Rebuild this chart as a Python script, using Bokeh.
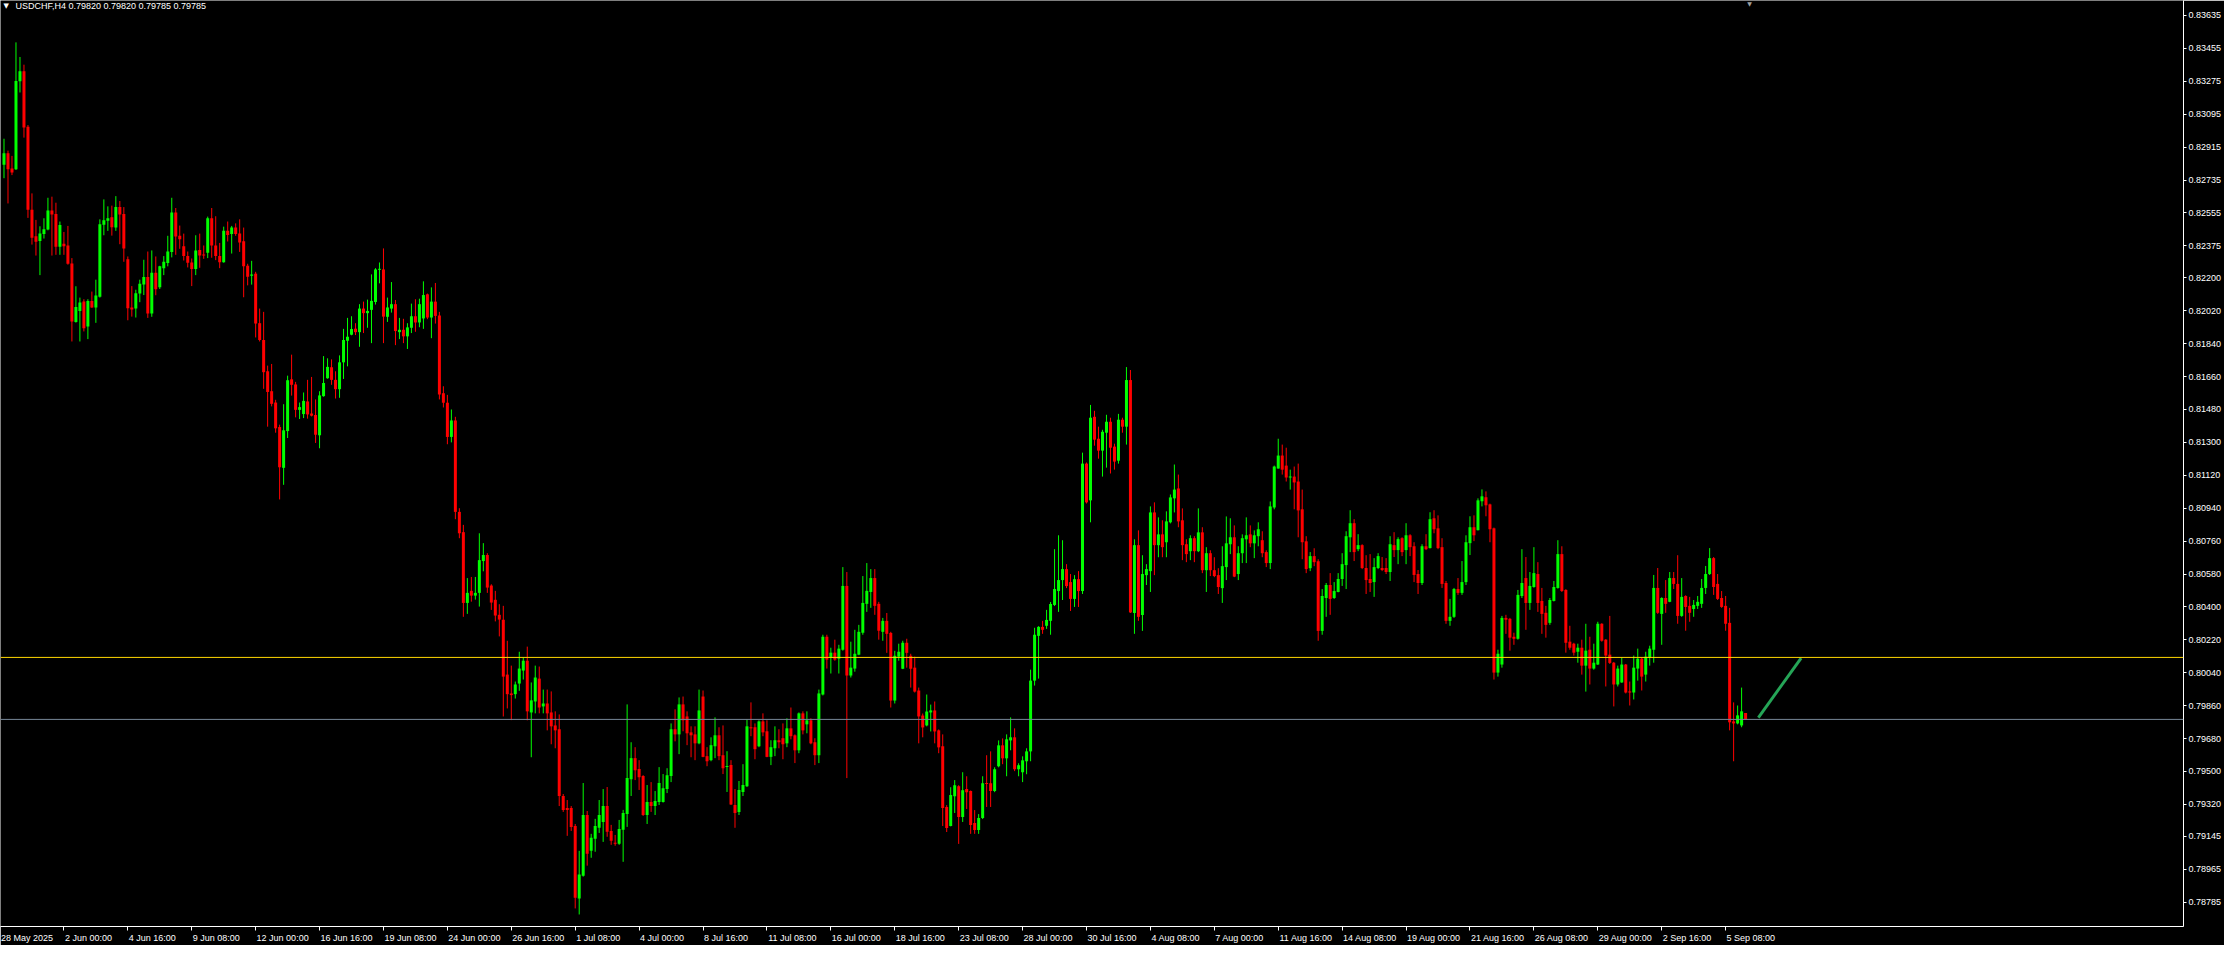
from bokeh.plotting import figure
from bokeh.models import (ColumnDataSource, Range1d, LinearAxis, FixedTicker,
                          PrintfTickFormatter, CustomJSTickFormatter, Span, Label)
from bokeh.embed import file_html
from bokeh.resources import INLINE

# ---------------- data (USDCHF, H4) ----------------
symbol_title = "USDCHF,H4  0.79820 0.79820 0.79785 0.79785"

opens = [
0.82818,0.82881,0.82798,0.82794,0.83275,0.83330,0.83027,0.82573,0.82428,0.82402,
0.82440,0.82464,0.82569,0.82549,0.82370,0.82386,0.82377,0.82279,0.81959,0.82019,
0.82070,0.81934,0.82074,0.82038,0.82097,0.82491,0.82513,0.82531,0.82475,0.82587,
0.82549,0.82302,0.82038,0.82032,0.82114,0.82163,0.82204,0.82005,0.82228,0.82148,
0.82253,0.82281,0.82342,0.82558,0.82430,0.82373,0.82319,0.82284,0.82248,0.82353,
0.82326,0.82337,0.82526,0.82377,0.82319,0.82286,0.82457,0.82440,0.82475,0.82442,
0.82400,0.82266,0.82212,0.82223,0.81952,0.81860,0.81689,0.81580,0.81518,0.81384,
0.81161,0.81362,0.81645,0.81617,0.81478,0.81455,0.81524,0.81458,0.81450,0.81339,
0.81553,0.81651,0.81711,0.81642,0.81591,0.81738,0.81856,0.81889,0.81922,0.81903,
0.82032,0.82007,0.82025,0.82068,0.82244,0.82246,0.81987,0.82032,0.82056,0.81903,
0.81916,0.81880,0.81927,0.81990,0.81956,0.81978,0.82110,0.81983,0.82070,0.81994,
0.81569,0.81517,0.81330,0.81420,0.80920,0.80809,0.80422,0.80488,0.80462,0.80477,
0.80651,0.80684,0.80517,0.80439,0.80357,0.80330,0.80030,0.79927,0.79923,0.79981,
0.80052,0.80106,0.79823,0.79883,0.80008,0.79856,0.79872,0.79823,0.79752,0.79731,
0.79366,0.79300,0.79300,0.79202,0.78805,0.78930,0.79262,0.79066,0.79132,0.79192,
0.79224,0.79311,0.79175,0.79110,0.79105,0.79181,0.79268,0.79458,0.79573,0.79513,
0.79475,0.79262,0.79333,0.79311,0.79333,0.79333,0.79404,0.79475,0.79731,0.79703,
0.79867,0.79801,0.79714,0.79703,0.79654,0.79910,0.79584,0.79562,0.79638,0.79698,
0.79589,0.79524,0.79535,0.79317,0.79279,0.79388,0.79420,0.79742,0.79742,0.79638,
0.79774,0.79720,0.79580,0.79627,0.79671,0.79682,0.79654,0.79736,0.79698,0.79616,
0.79818,0.79758,0.79780,0.79660,0.79589,0.79921,0.80237,0.80123,0.80150,0.80117,
0.80166,0.80515,0.80025,0.80063,0.80139,0.80259,0.80417,0.80482,0.80558,0.80417,
0.80264,0.80324,0.80258,0.79888,0.80128,0.80062,0.80204,0.80133,0.80068,0.79943,
0.79806,0.79752,0.79823,0.79834,0.79725,0.79638,0.79306,0.79202,0.79365,0.79420,
0.79251,0.79404,0.79393,0.79218,0.79180,0.79246,0.79436,0.79436,0.79393,0.79529,
0.79643,0.79572,0.79670,0.79687,0.79512,0.79496,0.79556,0.79610,0.79997,0.80242,
0.80291,0.80297,0.80324,0.80411,0.80487,0.80547,0.80607,0.80536,0.80444,0.80552,
0.80487,0.81184,0.80983,0.81440,0.81320,0.81255,0.81353,0.81413,0.81277,0.81200,
0.81424,0.81386,0.81641,0.80367,0.80738,0.80356,0.80574,0.80596,0.80917,0.80738,
0.80797,0.80754,0.80863,0.80994,0.81048,0.80874,0.80743,0.80705,0.80776,0.80705,
0.80808,0.80601,0.80694,0.80601,0.80574,0.80503,0.80618,0.80743,0.80781,0.80580,
0.80694,0.80770,0.80797,0.80748,0.80787,0.80765,0.80700,0.80640,0.80944,0.81157,
0.81228,0.81173,0.81108,0.81113,0.81086,0.80934,0.80759,0.80612,0.80678,0.80650,
0.80269,0.80449,0.80520,0.80449,0.80482,0.80553,0.80629,0.80781,0.80858,0.80716,
0.80738,0.80613,0.80553,0.80536,0.80613,0.80613,0.80613,0.80591,0.80738,0.80711,
0.80776,0.80711,0.80792,0.80732,0.80580,0.80531,0.80732,0.80722,0.80885,0.80830,
0.80727,0.80531,0.80324,0.80346,0.80498,0.80477,0.80536,0.80749,0.80836,0.80820,
0.80978,0.81000,0.80961,0.80830,0.80041,0.80085,0.80340,0.80335,0.80237,0.80226,
0.80460,0.80558,0.80422,0.80509,0.80580,0.80433,0.80368,0.80313,0.80433,0.80504,
0.80689,0.80493,0.80210,0.80199,0.80155,0.80177,0.80079,0.80166,0.80063,0.80085,
0.80308,0.80221,0.80139,0.80095,0.79976,0.79987,0.80085,0.79938,0.79932,0.80063,
0.80117,0.80030,0.80123,0.80166,0.80504,0.80362,0.80449,0.80428,0.80558,0.80526,
0.80351,0.80460,0.80406,0.80389,0.80406,0.80417,0.80504,0.80580,0.80667,0.80526,
0.80449,0.80406,0.80313,0.79774,0.79763,0.79752,0.79820]

highs = [
0.82961,0.82896,0.82867,0.83488,0.83408,0.83366,0.83036,0.82662,0.82517,0.82482,
0.82526,0.82638,0.82644,0.82611,0.82508,0.82451,0.82484,0.82308,0.82154,0.82092,
0.82083,0.82083,0.82125,0.82190,0.82520,0.82629,0.82591,0.82595,0.82647,0.82620,
0.82587,0.82317,0.82155,0.82135,0.82190,0.82299,0.82344,0.82350,0.82317,0.82266,
0.82319,0.82430,0.82638,0.82582,0.82486,0.82442,0.82344,0.82306,0.82433,0.82442,
0.82377,0.82535,0.82582,0.82537,0.82391,0.82480,0.82508,0.82484,0.82498,0.82520,
0.82475,0.82277,0.82293,0.82233,0.82032,0.82014,0.81720,0.81729,0.81533,0.81397,
0.81509,0.81665,0.81780,0.81631,0.81518,0.81573,0.81642,0.81658,0.81535,0.81580,
0.81772,0.81760,0.81754,0.81689,0.81776,0.81921,0.81981,0.81990,0.81952,0.82056,
0.82070,0.82081,0.82219,0.82253,0.82284,0.82361,0.82092,0.82177,0.82079,0.81981,
0.81976,0.81952,0.82059,0.82083,0.82086,0.82181,0.82114,0.82148,0.82172,0.82014,
0.81607,0.81560,0.81480,0.81440,0.80940,0.80849,0.80558,0.80564,0.80564,0.80803,
0.80749,0.80694,0.80524,0.80488,0.80415,0.80406,0.80215,0.80079,0.79992,0.80155,
0.80123,0.80183,0.79987,0.80079,0.80074,0.79948,0.79948,0.79938,0.79829,0.79812,
0.79377,0.79344,0.79311,0.79213,0.79066,0.79437,0.79284,0.79159,0.79241,0.79344,
0.79404,0.79415,0.79208,0.79153,0.79235,0.79290,0.79867,0.79660,0.79633,0.79562,
0.79480,0.79426,0.79442,0.79393,0.79524,0.79486,0.79518,0.79763,0.79840,0.79905,
0.79910,0.79829,0.79747,0.79747,0.79948,0.79943,0.79633,0.79687,0.79796,0.79742,
0.79752,0.79611,0.79562,0.79404,0.79448,0.79540,0.79785,0.79878,0.79763,0.79780,
0.79818,0.79780,0.79671,0.79747,0.79731,0.79763,0.79791,0.79850,0.79703,0.79823,
0.79829,0.79829,0.79791,0.79682,0.79948,0.80248,0.80248,0.80177,0.80221,0.80193,
0.80618,0.80591,0.80210,0.80275,0.80302,0.80569,0.80640,0.80607,0.80607,0.80428,
0.80340,0.80367,0.80264,0.80160,0.80199,0.80215,0.80226,0.80144,0.80128,0.79959,
0.79817,0.79921,0.79866,0.79883,0.79730,0.79703,0.79316,0.79414,0.79453,0.79425,
0.79496,0.79474,0.79396,0.79289,0.79267,0.79474,0.79589,0.79610,0.79523,0.79670,
0.79681,0.79703,0.79796,0.79736,0.79545,0.79583,0.79627,0.80057,0.80286,0.80295,
0.80324,0.80384,0.80427,0.80716,0.80792,0.80765,0.80634,0.80580,0.80574,0.80596,
0.81244,0.81190,0.81505,0.81473,0.81386,0.81369,0.81451,0.81435,0.81293,0.81456,
0.81435,0.81712,0.81696,0.80770,0.80819,0.80683,0.80634,0.80950,0.80972,0.80890,
0.80874,0.80923,0.81015,0.81179,0.81124,0.80939,0.80770,0.80792,0.80787,0.80939,
0.80836,0.80727,0.80710,0.80672,0.80612,0.80732,0.80895,0.80885,0.80846,0.80732,
0.80797,0.80890,0.80846,0.80819,0.80863,0.80814,0.80710,0.80977,0.81173,0.81320,
0.81288,0.81271,0.81151,0.81168,0.81184,0.81042,0.80787,0.80700,0.80721,0.80661,
0.80498,0.80531,0.80585,0.80536,0.80585,0.80694,0.80814,0.80929,0.80880,0.80798,
0.80743,0.80683,0.80689,0.80667,0.80694,0.80673,0.80667,0.80787,0.80809,0.80781,
0.80781,0.80858,0.80798,0.80754,0.80602,0.80743,0.80798,0.80918,0.80929,0.80901,
0.80776,0.80542,0.80444,0.80504,0.80558,0.80651,0.80792,0.80896,0.80901,0.80994,
0.81043,0.81032,0.80965,0.80834,0.80166,0.80351,0.80357,0.80340,0.80259,0.80493,
0.80716,0.80673,0.80591,0.80727,0.80645,0.80504,0.80406,0.80449,0.80542,0.80765,
0.80732,0.80497,0.80297,0.80204,0.80199,0.80221,0.80308,0.80237,0.80199,0.80319,
0.80311,0.80224,0.80351,0.80099,0.80079,0.80123,0.80088,0.79992,0.80134,0.80172,
0.80123,0.80155,0.80188,0.80575,0.80613,0.80453,0.80547,0.80591,0.80591,0.80683,
0.80558,0.80464,0.80455,0.80438,0.80460,0.80553,0.80624,0.80722,0.80673,0.80580,
0.80487,0.80460,0.80395,0.79878,0.79861,0.79959,0.79820]

lows = [
0.82745,0.82607,0.82762,0.82790,0.83214,0.82967,0.82528,0.82382,0.82322,0.82215,
0.82415,0.82460,0.82322,0.82326,0.82326,0.82326,0.82272,0.81852,0.81955,0.81852,
0.81907,0.81865,0.82036,0.81954,0.82092,0.82433,0.82457,0.82431,0.82457,0.82384,
0.82288,0.81968,0.81988,0.81983,0.82067,0.82106,0.81981,0.81987,0.82105,0.82139,
0.82215,0.82263,0.82312,0.82326,0.82359,0.82295,0.82257,0.82155,0.82215,0.82255,
0.82304,0.82308,0.82310,0.82297,0.82253,0.82283,0.82399,0.82333,0.82430,0.82342,
0.82094,0.82159,0.82163,0.81874,0.81852,0.81593,0.81386,0.81497,0.81353,0.80988,
0.81068,0.81324,0.81556,0.81437,0.81428,0.81433,0.81430,0.81442,0.81297,0.81268,
0.81550,0.81648,0.81615,0.81540,0.81544,0.81647,0.81716,0.81886,0.81887,0.81823,
0.81898,0.81927,0.81843,0.82054,0.82170,0.81843,0.81959,0.82010,0.81832,0.81865,
0.81843,0.81811,0.81898,0.81905,0.81930,0.81921,0.81974,0.81870,0.81950,0.81535,
0.81491,0.81290,0.81300,0.80880,0.80776,0.80346,0.80362,0.80429,0.80440,0.80402,
0.80595,0.80477,0.80384,0.80321,0.80239,0.79801,0.79845,0.79781,0.79899,0.79941,
0.80003,0.79780,0.79578,0.79818,0.79818,0.79818,0.79725,0.79649,0.79627,0.79311,
0.79279,0.79148,0.79175,0.78751,0.78718,0.78925,0.78985,0.79028,0.79061,0.79164,
0.79115,0.79143,0.79099,0.79094,0.79099,0.79006,0.79197,0.79366,0.79453,0.79399,
0.79257,0.79213,0.79279,0.79262,0.79317,0.79330,0.79382,0.79442,0.79665,0.79595,
0.79720,0.79644,0.79578,0.79562,0.79649,0.79578,0.79529,0.79556,0.79573,0.79562,
0.79486,0.79388,0.79317,0.79192,0.79262,0.79366,0.79415,0.79693,0.79567,0.79633,
0.79693,0.79578,0.79535,0.79584,0.79627,0.79567,0.79633,0.79676,0.79546,0.79600,
0.79703,0.79709,0.79649,0.79535,0.79546,0.79916,0.80063,0.80036,0.80106,0.80036,
0.80161,0.79464,0.80014,0.80046,0.80136,0.80248,0.80373,0.80395,0.80357,0.80221,
0.80215,0.80149,0.79850,0.79872,0.80106,0.80060,0.80068,0.79959,0.79932,0.79654,
0.79687,0.79747,0.79719,0.79654,0.79600,0.79202,0.79169,0.79200,0.79273,0.79104,
0.79224,0.79295,0.79159,0.79159,0.79159,0.79240,0.79306,0.79306,0.79387,0.79523,
0.79540,0.79474,0.79616,0.79502,0.79474,0.79442,0.79485,0.79556,0.79970,0.80008,
0.80253,0.80280,0.80248,0.80405,0.80373,0.80438,0.80503,0.80378,0.80400,0.80400,
0.80471,0.80966,0.80863,0.81282,0.81211,0.81113,0.81162,0.81130,0.81151,0.81184,
0.81353,0.81288,0.80367,0.80253,0.80324,0.80269,0.80520,0.80482,0.80574,0.80672,
0.80672,0.80672,0.80857,0.80917,0.80836,0.80656,0.80645,0.80656,0.80645,0.80700,
0.80585,0.80482,0.80569,0.80563,0.80471,0.80422,0.80547,0.80689,0.80563,0.80547,
0.80640,0.80640,0.80727,0.80667,0.80732,0.80672,0.80618,0.80607,0.80934,0.81157,
0.81124,0.81086,0.81042,0.80934,0.80781,0.80661,0.80585,0.80596,0.80623,0.80215,
0.80248,0.80346,0.80357,0.80444,0.80480,0.80515,0.80498,0.80700,0.80651,0.80705,
0.80607,0.80471,0.80482,0.80455,0.80607,0.80596,0.80580,0.80542,0.80673,0.80634,
0.80678,0.80634,0.80678,0.80536,0.80471,0.80520,0.80711,0.80720,0.80803,0.80716,
0.80504,0.80308,0.80297,0.80340,0.80466,0.80466,0.80520,0.80684,0.80760,0.80818,
0.80950,0.80896,0.80754,0.80003,0.80019,0.80068,0.80253,0.80161,0.80193,0.80221,
0.80449,0.80275,0.80384,0.80505,0.80373,0.80253,0.80232,0.80302,0.80430,0.80500,
0.80482,0.80150,0.80166,0.80134,0.80095,0.80030,0.79937,0.79976,0.80057,0.80083,
0.80210,0.79965,0.80088,0.79856,0.79965,0.79985,0.79927,0.79861,0.79894,0.79997,
0.79943,0.79992,0.80079,0.80095,0.80362,0.80193,0.80368,0.80426,0.80498,0.80308,
0.80346,0.80270,0.80319,0.80346,0.80389,0.80395,0.80471,0.80575,0.80466,0.80438,
0.80395,0.80270,0.79725,0.79556,0.79758,0.79742,0.79785]

closes = [
0.82881,0.82794,0.82776,0.83277,0.83330,0.83023,0.82573,0.82419,0.82397,0.82442,
0.82466,0.82569,0.82546,0.82370,0.82489,0.82373,0.82277,0.81961,0.82041,0.82065,
0.81925,0.82074,0.82038,0.82103,0.82493,0.82515,0.82526,0.82477,0.82587,0.82546,
0.82361,0.82034,0.82027,0.82116,0.82168,0.82204,0.82005,0.82228,0.82137,0.82263,
0.82288,0.82344,0.82558,0.82426,0.82411,0.82319,0.82283,0.82248,0.82350,0.82322,
0.82322,0.82526,0.82377,0.82319,0.82286,0.82457,0.82435,0.82475,0.82440,0.82393,
0.82263,0.82206,0.82219,0.81950,0.81860,0.81684,0.81576,0.81511,0.81377,0.81164,
0.81366,0.81640,0.81615,0.81478,0.81493,0.81527,0.81453,0.81446,0.81342,0.81557,
0.81625,0.81713,0.81642,0.81591,0.81738,0.81860,0.81878,0.81920,0.81903,0.82032,
0.82007,0.82019,0.82074,0.82246,0.82248,0.81988,0.82038,0.82056,0.81909,0.81916,
0.81880,0.81929,0.81990,0.81956,0.82056,0.82106,0.81983,0.82070,0.81992,0.81562,
0.81517,0.81330,0.81420,0.80920,0.80803,0.80422,0.80477,0.80462,0.80477,0.80656,
0.80684,0.80506,0.80424,0.80353,0.80331,0.80019,0.79923,0.79918,0.79976,0.80063,
0.80106,0.79829,0.79889,0.80014,0.79850,0.79872,0.79818,0.79747,0.79725,0.79366,
0.79290,0.79290,0.79197,0.78810,0.78936,0.79262,0.79050,0.79137,0.79202,0.79262,
0.79311,0.79170,0.79121,0.79105,0.79186,0.79273,0.79464,0.79573,0.79507,0.79469,
0.79262,0.79333,0.79311,0.79339,0.79437,0.79409,0.79480,0.79731,0.79703,0.79867,
0.79780,0.79709,0.79698,0.79654,0.79834,0.79580,0.79556,0.79644,0.79698,0.79584,
0.79518,0.79529,0.79320,0.79273,0.79399,0.79426,0.79747,0.79736,0.79622,0.79774,
0.79714,0.79580,0.79633,0.79671,0.79660,0.79649,0.79736,0.79693,0.79616,0.79818,
0.79725,0.79780,0.79654,0.79589,0.79927,0.80237,0.80112,0.80150,0.80112,0.80172,
0.80515,0.80025,0.80068,0.80144,0.80264,0.80422,0.80488,0.80558,0.80406,0.80270,
0.80324,0.80253,0.79888,0.80133,0.80155,0.80204,0.80149,0.80062,0.79937,0.79801,
0.79741,0.79828,0.79834,0.79719,0.79632,0.79300,0.79191,0.79371,0.79425,0.79251,
0.79398,0.79387,0.79208,0.79180,0.79246,0.79436,0.79431,0.79393,0.79512,0.79643,
0.79572,0.79676,0.79687,0.79512,0.79534,0.79561,0.79610,0.79997,0.80248,0.80291,
0.80275,0.80329,0.80416,0.80498,0.80547,0.80607,0.80514,0.80444,0.80552,0.80487,
0.81184,0.80972,0.81435,0.81315,0.81255,0.81358,0.81413,0.81271,0.81195,0.81424,
0.81386,0.81641,0.80370,0.80738,0.80346,0.80580,0.80607,0.80917,0.80738,0.80797,
0.80727,0.80868,0.80999,0.81042,0.80868,0.80738,0.80689,0.80776,0.80705,0.80808,
0.80601,0.80694,0.80601,0.80569,0.80509,0.80623,0.80748,0.80781,0.80566,0.80694,
0.80776,0.80792,0.80748,0.80792,0.80825,0.80694,0.80640,0.80950,0.81168,0.81228,
0.81151,0.81108,0.81113,0.81081,0.80928,0.80754,0.80607,0.80678,0.80645,0.80269,
0.80460,0.80520,0.80444,0.80487,0.80553,0.80634,0.80787,0.80858,0.80700,0.80738,
0.80613,0.80547,0.80531,0.80618,0.80678,0.80602,0.80591,0.80743,0.80711,0.80771,
0.80700,0.80792,0.80727,0.80575,0.80531,0.80732,0.80716,0.80880,0.80825,0.80722,
0.80526,0.80324,0.80346,0.80498,0.80477,0.80536,0.80754,0.80836,0.80792,0.80983,
0.81005,0.80956,0.80825,0.80041,0.80144,0.80340,0.80330,0.80232,0.80226,0.80466,
0.80531,0.80422,0.80515,0.80585,0.80422,0.80362,0.80302,0.80438,0.80509,0.80689,
0.80487,0.80204,0.80177,0.80150,0.80177,0.80079,0.80161,0.80063,0.80095,0.80308,
0.80215,0.80134,0.80094,0.79976,0.80063,0.80085,0.79932,0.79932,0.80068,0.80117,
0.80019,0.80128,0.80172,0.80504,0.80368,0.80449,0.80417,0.80558,0.80526,0.80351,
0.80455,0.80400,0.80368,0.80411,0.80428,0.80504,0.80580,0.80667,0.80509,0.80444,
0.80400,0.80308,0.79769,0.79763,0.79807,0.79829,0.79785]

# right price scale labels
price_ticks = [0.83635, 0.83455, 0.83275, 0.83095, 0.82915, 0.82735, 0.82555, 0.82375,
               0.82200, 0.82020, 0.81840, 0.81660, 0.81480, 0.81300, 0.81120, 0.80940,
               0.80760, 0.80580, 0.80400, 0.80220, 0.80040, 0.79860, 0.79680, 0.79500,
               0.79320, 0.79145, 0.78965, 0.78785, 0.78605]

# time scale: first label (leftmost bar) and labelled bars
first_time_label = "28 May 2025"
time_tick_bars = [15, 31, 47, 63, 79, 95, 111, 127, 143, 159, 175, 191, 207, 223,
                  239, 255, 271, 287, 303, 319, 335, 351, 367, 383, 399, 415, 431]
time_tick_labels = ["2 Jun 00:00", "4 Jun 16:00", "9 Jun 08:00", "12 Jun 00:00",
                    "16 Jun 16:00", "19 Jun 08:00", "24 Jun 00:00", "26 Jun 16:00",
                    "1 Jul 08:00", "4 Jul 00:00", "8 Jul 16:00", "11 Jul 08:00",
                    "16 Jul 00:00", "18 Jul 16:00", "23 Jul 08:00", "28 Jul 00:00",
                    "30 Jul 16:00", "4 Aug 08:00", "7 Aug 00:00", "11 Aug 16:00",
                    "14 Aug 08:00", "19 Aug 00:00", "21 Aug 16:00", "26 Aug 08:00",
                    "29 Aug 00:00", "2 Sep 16:00", "5 Sep 08:00"]

level_price = 0.80124          # yellow horizontal line
bid_price = 0.79785            # bid line
trend_x = [439.2, 449.9]       # projection line (bar index)
trend_y = [0.79795, 0.80120]
shift_marker_bar = 437         # chart-shift marker at the top

# ---------------- layout / style ----------------
W, H = 2224, 945
RIGHT_BORDER, BOTTOM_BORDER = 38, 15
FRAME_W, FRAME_H = W - RIGHT_BORDER, H - BOTTOM_BORDER
PX_PER_BAR = 4.0
PX_PRICE = 0.00005446
x_lo = -3.5 / PX_PER_BAR
x_hi = x_lo + FRAME_W / PX_PER_BAR
y_hi = 0.83717
y_lo = y_hi - FRAME_H * PX_PRICE

BULL, BEAR = "#00FF00", "#FF0000"
FONT = "Liberation Sans"
FS = "9px"

n = len(opens)
xs = list(range(n))
tops, bots, cols = [], [], []
for o, c in zip(opens, closes):
    t, b = max(o, c), min(o, c)
    if t - b < PX_PRICE:
        t = b + PX_PRICE
    tops.append(t)
    bots.append(b)
    cols.append(BULL if c >= o else BEAR)

src = ColumnDataSource(dict(x=xs, h=highs, l=lows, top=tops, bottom=bots, color=cols))

p = figure(width=W, height=H, output_backend="svg", toolbar_location=None,
           x_range=Range1d(x_lo, x_hi), y_range=Range1d(y_lo, y_hi),
           x_axis_location=None, y_axis_location=None,
           background_fill_color="black", border_fill_color="black",
           outline_line_color=None,
           min_border_left=0, min_border_top=0,
           min_border_right=RIGHT_BORDER, min_border_bottom=BOTTOM_BORDER)
p.xgrid.visible = False
p.ygrid.visible = False

p.segment(x0="x", y0="l", x1="x", y1="h", line_color="color", line_width=1, source=src)
p.vbar(x="x", width=0.75, top="top", bottom="bottom", fill_color="color",
       line_color=None, source=src)

p.add_layout(Span(location=level_price, dimension="width", line_color="#FFD700", line_width=1))
p.add_layout(Span(location=bid_price, dimension="width", line_color="#778899", line_width=1))
p.line(trend_x, trend_y, line_color="#25A557", line_width=3)

# right price axis
yaxis = LinearAxis(ticker=FixedTicker(ticks=price_ticks),
                   formatter=PrintfTickFormatter(format="%.5f"),
                   axis_line_color="white", axis_line_width=1,
                   major_tick_line_color="white", major_tick_in=0, major_tick_out=3,
                   minor_tick_line_color=None,
                   major_label_text_color="white", major_label_text_font=FONT,
                   major_label_text_font_size=FS, major_label_standoff=2)
p.add_layout(yaxis, "right")

# bottom time axis: labels start at their tick mark
CHAR_W = {" ": 278, ":": 278, "J": 500, "M": 833, "A": 667, "S": 667,
          "u": 556, "n": 556, "a": 556, "y": 500, "l": 222, "g": 556, "e": 556, "p": 556}
def label_w(s):
    return sum(CHAR_W.get(ch, 556) for ch in s) * 9 / 1000.0

all_labels = [first_time_label] + time_tick_labels
centers = [x_lo + (label_w(first_time_label) / 2 + 0.5) / PX_PER_BAR]
centers += [b + (label_w(s) / 2 + 1) / PX_PER_BAR for b, s in zip(time_tick_bars, time_tick_labels)]

fmt = CustomJSTickFormatter(args=dict(labels=all_labels, centers=centers), code="""
    let best = 0;
    for (let i = 0; i < centers.length; i++) {
        if (Math.abs(centers[i] - tick) < Math.abs(centers[best] - tick)) best = i;
    }
    return labels[best];
""")
xaxis = LinearAxis(ticker=FixedTicker(ticks=centers, minor_ticks=time_tick_bars),
                   formatter=fmt,
                   axis_line_color="white", axis_line_width=1,
                   major_tick_line_color=None, major_tick_in=0, major_tick_out=0,
                   minor_tick_line_color="white", minor_tick_in=0, minor_tick_out=4,
                   major_label_text_color="white", major_label_text_font=FONT,
                   major_label_text_font_size=FS, major_label_standoff=2)
p.add_layout(xaxis, "below")

# price tags on the scale
tag_x = x_hi + 3.0 / PX_PER_BAR
p.add_layout(Label(x=tag_x, y=level_price, text=f"{level_price:.5f}", text_color="black",
                   text_font=FONT, text_font_size=FS, text_baseline="middle",
                   text_align="left", background_fill_color="#FFD700", padding=2))
p.add_layout(Label(x=tag_x, y=bid_price, text=f"{bid_price:.5f}", text_color="black",
                   text_font=FONT, text_font_size=FS, text_baseline="middle",
                   text_align="left", background_fill_color="white", padding=2))

# chart-shift marker
p.add_layout(Label(x=shift_marker_bar, y=y_hi, text="\u25BC", text_color="#A0A0A0",
                   text_font="DejaVu Sans", text_font_size="6px", text_baseline="top",
                   text_align="center", y_offset=1))

# chart title (symbol, timeframe, last OHLC)
p.add_layout(Label(x=x_lo + 3 / PX_PER_BAR, y=y_hi, text="\u25BC", text_color="white",
                   text_font="DejaVu Sans", text_font_size="7px", text_baseline="top",
                   text_align="left", y_offset=-1))
p.add_layout(Label(x=x_lo + 15 / PX_PER_BAR, y=y_hi, text=symbol_title, text_color="white",
                   text_font=FONT, text_font_size=FS, text_baseline="top",
                   text_align="left", y_offset=0))

open("out.html", "w").write(file_html(p, INLINE))
